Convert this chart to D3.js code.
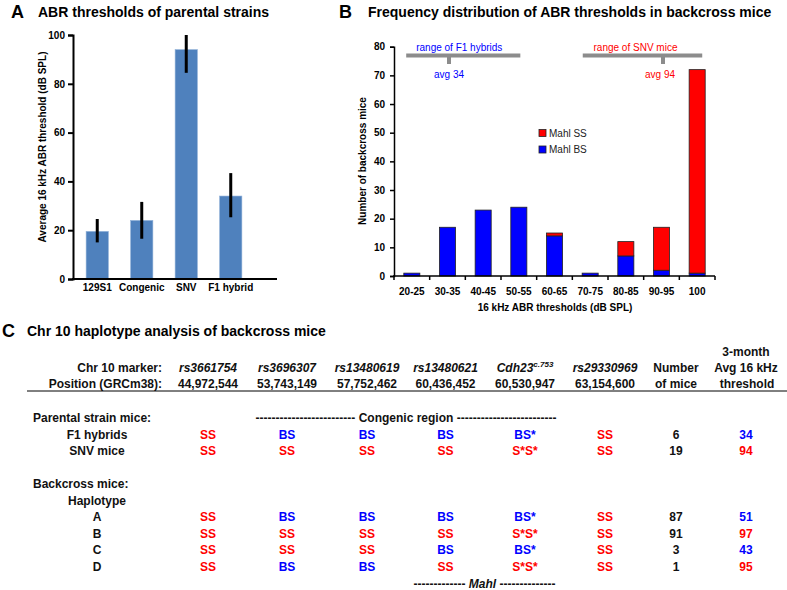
<!DOCTYPE html>
<html><head><meta charset="utf-8">
<script src="https://cdn.jsdelivr.net/npm/d3@7"></script>
<style>
html,body{margin:0;padding:0;background:#fff;}
svg{display:block;font-family:"Liberation Sans",Arial,Helvetica,sans-serif;}
</style></head>
<body><svg id="c" width="787" height="590"></svg>
<script>
// ---------- Panel A data ----------
const strains = ["129S1", "Congenic", "SNV", "F1 hybrid"];
const strainMeans = [19.5, 24, 94, 34];
const strainErrLow = [15, 16.5, 84.5, 25.3];
const strainErrHigh = [24.6, 31.6, 100, 43.4];
const ticksA = [0, 20, 40, 60, 80, 100];

// ---------- Panel B data ----------
const bins = ["20-25", "30-35", "40-45", "50-55", "60-65", "70-75", "80-85", "90-95", "100"];
const mahlBS = [1, 17, 23, 24, 14, 1, 7, 2, 1];
const mahlSS = [0, 0, 0, 0, 1, 0, 5, 15, 71];
const ticksB = [0, 10, 20, 30, 40, 50, 60, 70, 80];
const rangeLabels = ["range of F1 hybrids", "range of SNV mice"];
const rangeLow = [22, 71.5];
const rangeHigh = [54, 105];
const rangeAvg = [34, 94];

// ---------- Panel C data ----------
const markers = ["rs3661754", "rs3696307", "rs13480619", "rs13480621", "Cdh23", "rs29330969"];
const positions = ["44,972,544", "53,743,149", "57,752,462", "60,436,452", "60,530,947", "63,154,600"];
const parentalRows = ["F1 hybrids", "SNV mice"];
const parentalGeno = [["SS","BS","BS","BS","BS*","SS"], ["SS","SS","SS","SS","S*S*","SS"]];
const parentalN = [6, 19];
const parentalAvg = [34, 94];
const haplotypes = ["A", "B", "C", "D"];
const haploGeno = [["SS","BS","BS","BS","BS*","SS"], ["SS","SS","SS","SS","S*S*","SS"],
                   ["SS","SS","SS","BS","BS*","SS"], ["SS","BS","BS","SS","S*S*","SS"]];
const haploN = [87, 91, 3, 1];
const haploAvg = [51, 97, 43, 95];

const BLUE = "#0000ff", RED = "#ff0000";
const svg = d3.select("#c");
const F = "'Liberation Sans',Arial,sans-serif";

// ================= Panel A =================
svg.append("text").attr("x", 11).attr("y", 18).attr("font-size", 18).attr("font-weight", "bold").text("A");
svg.append("text").attr("x", 38).attr("y", 17).attr("font-size", 14).attr("font-weight", "bold").text("ABR thresholds of parental strains");

const yA = d3.scaleLinear().domain([0, 100]).range([279, 35]);
const xA = d3.scaleBand().domain(strains).range([75, 253]).padding(0);
const gA = svg.append("g");
gA.selectAll("rect.bar").data(strains).join("rect").attr("class", "bar")
  .attr("x", d => xA(d) + xA.bandwidth() * 0.25)
  .attr("width", xA.bandwidth() * 0.5)
  .attr("y", (d, i) => yA(strainMeans[i]))
  .attr("height", (d, i) => yA(0) - yA(strainMeans[i]))
  .attr("fill", "#4f81bd").attr("stroke", "#8fb0d8").attr("stroke-width", 0.6);
gA.selectAll("line.err").data(strains).join("line").attr("class", "err")
  .attr("x1", d => xA(d) + xA.bandwidth() / 2).attr("x2", d => xA(d) + xA.bandwidth() / 2)
  .attr("y1", (d, i) => yA(strainErrLow[i])).attr("y2", (d, i) => yA(strainErrHigh[i]))
  .attr("stroke", "#000").attr("stroke-width", 3);
const axA = gA.append("g").attr("transform", "translate(73,0)")
  .call(d3.axisLeft(yA).tickValues(ticksA).tickSize(5).tickPadding(3));
axA.select(".domain").attr("stroke-width", 2);
axA.selectAll(".tick line").attr("stroke-width", 2);
axA.selectAll("text").attr("font-size", 10).attr("font-weight", "bold").attr("font-family", F);
gA.append("line").attr("x1", 72).attr("x2", 277).attr("y1", yA(0)).attr("y2", yA(0)).attr("stroke", "#000").attr("stroke-width", 2);
gA.selectAll("text.cat").data(strains).join("text").attr("class", "cat")
  .attr("x", d => xA(d) + xA.bandwidth() / 2).attr("y", 291).attr("text-anchor", "middle")
  .attr("font-size", 10).attr("font-weight", "bold").text(d => d);
gA.append("text").attr("transform", "translate(46,147) rotate(-90)").attr("text-anchor", "middle")
  .attr("font-size", 10).attr("font-weight", "bold").text("Average 16 kHz ABR threshold (dB SPL)");

// ================= Panel B =================
svg.append("text").attr("x", 339).attr("y", 18).attr("font-size", 18).attr("font-weight", "bold").text("B");
svg.append("text").attr("x", 368).attr("y", 17).attr("font-size", 14).attr("font-weight", "bold").text("Frequency distribution of ABR thresholds in backcross mice");

const yB = d3.scaleLinear().domain([0, 80]).range([276, 46.7]);
const xB = d3.scaleBand().domain(bins).range([394, 715]).paddingInner(0.55).paddingOuter(0.275);
const gB = svg.append("g");
const stackData = bins.map((b, i) => ({bin: b, BS: mahlBS[i], SS: mahlSS[i]}));
const series = d3.stack().keys(["BS", "SS"])(stackData);
const colB = {BS: BLUE, SS: RED};
series.forEach(s => {
  gB.selectAll(null).data(s.filter(d => d[1] - d[0] > 0)).join("rect")
    .attr("x", d => xB(d.data.bin)).attr("width", xB.bandwidth())
    .attr("y", d => yB(d[1])).attr("height", d => yB(d[0]) - yB(d[1]))
    .attr("fill", colB[s.key]).attr("stroke", "#222").attr("stroke-width", 0.8);
});
const axB = gB.append("g").attr("transform", "translate(394,0)")
  .call(d3.axisLeft(yB).tickValues(ticksB).tickSize(4).tickPadding(5));
axB.select(".domain").attr("stroke-width", 1.5);
axB.selectAll(".tick line").attr("stroke-width", 1.5);
axB.selectAll("text").attr("font-size", 10).attr("font-weight", "bold").attr("font-family", F);
const stepB = xB.step();
const edges = d3.range(bins.length + 1).map(i => 394 + i * stepB);
gB.append("line").attr("x1", 393).attr("x2", 715).attr("y1", yB(0)).attr("y2", yB(0)).attr("stroke", "#000").attr("stroke-width", 1.5);
gB.selectAll("line.xt").data(edges).join("line").attr("class", "xt")
  .attr("x1", d => d).attr("x2", d => d).attr("y1", yB(0)).attr("y2", yB(0) + 4)
  .attr("stroke", "#000").attr("stroke-width", 1.5);
gB.selectAll("text.bin").data(bins).join("text").attr("class", "bin")
  .attr("x", d => xB(d) + xB.bandwidth() / 2).attr("y", 295).attr("text-anchor", "middle")
  .attr("font-size", 10).attr("font-weight", "bold").text(d => d);
gB.append("text").attr("x", 555).attr("y", 311).attr("text-anchor", "middle")
  .attr("font-size", 10).attr("font-weight", "bold").text("16 kHz ABR thresholds (dB SPL)");
gB.append("text").attr("transform", "translate(366,161) rotate(-90)").attr("text-anchor", "middle")
  .attr("font-size", 10).attr("font-weight", "bold").text("Number of backcross mice");

// legend
const legItems = [["Mahl SS", RED], ["Mahl BS", BLUE]];
legItems.forEach((it, i) => {
  const y = 133 + i * 16.5;
  gB.append("rect").attr("x", 539).attr("y", y - 3.5).attr("width", 7).attr("height", 7)
    .attr("fill", it[1]).attr("stroke", "#222").attr("stroke-width", 0.8);
  gB.append("text").attr("x", 549).attr("y", y + 3.5).attr("font-size", 10).attr("fill", "#222").text(it[0]);
});

// range annotations
const dB = d3.scaleLinear().domain([34, 94]).range([449, 663]);
const annColors = [BLUE, RED];
rangeLabels.forEach((lab, i) => {
  const c = annColors[i];
  gB.append("line").attr("x1", dB(rangeLow[i])).attr("x2", dB(rangeHigh[i]))
    .attr("y1", 55.5).attr("y2", 55.5).attr("stroke", "#8c8c8c").attr("stroke-width", 4);
  gB.append("line").attr("x1", dB(rangeAvg[i])).attr("x2", dB(rangeAvg[i]))
    .attr("y1", 55).attr("y2", 64).attr("stroke", "#8c8c8c").attr("stroke-width", 4);
  gB.append("text").attr("x", (dB(rangeLow[i]) + dB(rangeHigh[i])) / 2 + (i === 0 ? -4 : -7)).attr("y", 51)
    .attr("text-anchor", "middle").attr("font-size", 10).attr("fill", c).text(lab);
  gB.append("text").attr("x", dB(rangeAvg[i]) + (i === 0 ? 0 : -3)).attr("y", 77.5)
    .attr("text-anchor", "middle").attr("font-size", 10).attr("fill", c).text("avg " + rangeAvg[i]);
});

// ================= Panel C =================
svg.append("text").attr("x", 2).attr("y", 337).attr("font-size", 18).attr("font-weight", "bold").text("C");
svg.append("text").attr("x", 27).attr("y", 336).attr("font-size", 14).attr("font-weight", "bold").text("Chr 10 haplotype analysis of backcross mice");

const colX = [208, 287, 367, 445.5, 525, 605, 676, 746];
const gC = svg.append("g").attr("font-size", 12).attr("font-weight", "bold");
const T = (x, y, t, anchor, fill) => gC.append("text").attr("x", x).attr("y", y)
  .attr("text-anchor", anchor || "middle").attr("fill", fill || "#111").text(t);

T(162, 372, "Chr 10 marker:", "end");
T(162, 388, "Position (GRCm38):", "end");
markers.forEach((m, i) => {
  const t = gC.append("text").attr("x", colX[i]).attr("y", 372).attr("text-anchor", "middle")
    .attr("font-style", "italic").attr("fill", "#111");
  t.append("tspan").text(m);
  if (m === "Cdh23") t.append("tspan").attr("font-size", 8).attr("dy", -5).text("c.753");
  T(colX[i], 388, positions[i]);
});
T(colX[6], 372, "Number");
T(colX[6], 388, "of mice");
T(colX[7], 356, "3-month");
T(colX[7], 372, "Avg 16 kHz");
T(colX[7] + 1, 388, "threshold");
gC.append("line").attr("x1", 27).attr("x2", 787).attr("y1", 391).attr("y2", 391).attr("stroke", "#000").attr("stroke-width", 1);

T(33, 422, "Parental strain mice:", "start");
T(406, 422, "------------------------- Congenic region -------------------------");
const genoColor = g => g.indexOf("B") >= 0 ? BLUE : RED;
const drawRows = (labels, genos, ns, avgs, y0) => {
  labels.forEach((lab, r) => {
    const y = y0 + r * 16.5;
    T(97, y, lab);
    genos[r].forEach((g, c) => T(colX[c], y, g, "middle", genoColor(g)));
    T(colX[6], y, String(ns[r]));
    T(colX[7], y, String(avgs[r]), "middle", genoColor(genos[r][4]));
  });
};
drawRows(parentalRows, parentalGeno, parentalN, parentalAvg, 438.5);

T(33, 488, "Backcross mice:", "start");
T(97, 504.5, "Haplotype");
drawRows(haplotypes, haploGeno, haploN, haploAvg, 521);

const mt = gC.append("text").attr("x", 484.5).attr("y", 588).attr("text-anchor", "middle").attr("fill", "#111");
mt.append("tspan").text("------------- ");
mt.append("tspan").attr("font-style", "italic").text("Mahl");
mt.append("tspan").text(" --------------");
</script></body></html>
